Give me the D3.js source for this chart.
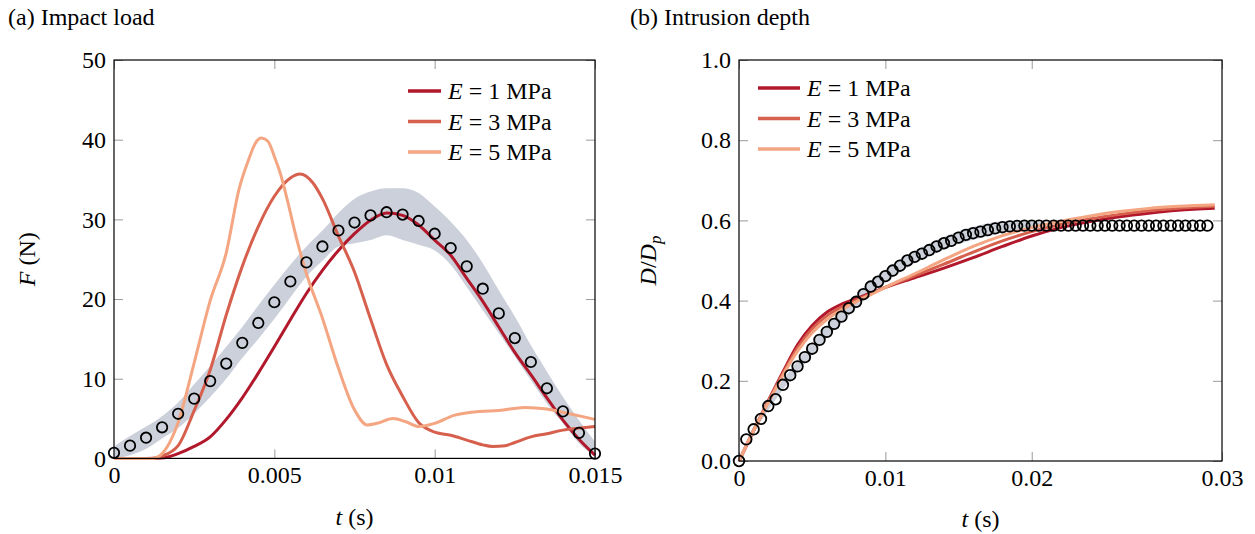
<!DOCTYPE html>
<html>
<head>
<meta charset="utf-8">
<script src="https://cdn.jsdelivr.net/npm/d3@7"></script>
<style>
  html, body { margin: 0; padding: 0; background: #fff; }
  svg { display: block; }
</style>
</head>
<body>
<svg id="fig" width="1255" height="534"></svg>
<script>
// ---------- (a) impact load: F (N) against t (s) ----------
const loadTicksX = [0, 0.005, 0.01, 0.015];
const loadTickLabelsX = ["0", "0.005", "0.01", "0.015"];
const loadTicksY = [0, 10, 20, 30, 40, 50];

// measured load, one point every 0.5 ms
const loadExpT = [0,0.0005,0.001,0.0015,0.002,0.0025,0.003,0.0035,0.004,0.0045,0.005,0.0055,0.006,0.0065,0.007,0.0075,0.008,0.0085,0.009,0.0095,0.01,0.0105,0.011,0.0115,0.012,0.0125,0.013,0.0135,0.014,0.0145,0.015];
const loadExp = [0.7,1.6,2.6,3.9,5.6,7.5,9.7,11.9,14.5,17.0,19.6,22.2,24.6,26.6,28.6,29.6,30.5,30.9,30.6,29.8,28.2,26.4,24.1,21.3,18.2,15.1,12.1,8.8,5.9,3.2,0.6];
// spread of the measured load (shaded band)
const loadBandUpper = [1.5,2.8,4.0,5.3,7.0,9.3,11.6,14.0,16.5,19.2,21.8,24.3,26.6,28.6,30.8,32.6,33.5,33.9,33.9,33.3,31.6,29.7,27.4,24.5,21.1,17.8,14.2,10.9,7.7,4.8,2.1];
const loadBandLower = [0,0.4,1.2,2.5,3.8,5.6,7.7,10.0,12.6,15.0,17.5,20.2,22.8,24.8,26.6,27.0,27.4,28.0,27.4,26.8,26.1,24.3,21.5,18.6,15.7,12.8,9.8,6.9,4.4,1.9,0.2];

// simulated load for three moduli
const loadE1T = loadExpT;
const loadE1 = [0,0,0,0.05,0.6,1.5,2.7,4.9,7.6,10.7,14.0,17.4,20.7,23.6,26.1,28.2,29.9,30.8,30.5,29.3,27.4,25.5,22.6,19.7,16.5,13.3,10.5,7.6,4.8,2.4,0.4];
const loadE3T = [0,0.0012,0.0015,0.002,0.0025,0.003,0.0035,0.004,0.0045,0.005,0.0055,0.0058,0.0062,0.0065,0.007,0.0075,0.008,0.0085,0.009,0.0095,0.01,0.0105,0.011,0.0115,0.0118,0.0122,0.0125,0.013,0.0135,0.014,0.0145,0.015];
const loadE3 = [0,0,0.3,1.6,6.0,11.1,18.0,24.1,29.1,32.9,35.2,35.7,34.6,32.6,27.9,23.4,17.5,11.8,7.8,4.5,3.3,2.9,2.3,1.7,1.5,1.6,2.0,2.7,3.1,3.55,3.8,4.0];
const loadE5T = [0,0.0012,0.0015,0.0018,0.002,0.0025,0.003,0.0035,0.0039,0.0042,0.0044,0.0046,0.0048,0.005,0.0052,0.0054,0.0057,0.006,0.0065,0.007,0.0075,0.0079,0.0082,0.0087,0.0091,0.0095,0.01,0.0106,0.0114,0.012,0.0128,0.0135,0.0141,0.015];
const loadE5 = [0,0,0.6,2.5,4.5,12.0,19.8,25.8,33.8,37.5,39.5,40.2,39.8,37.9,35.6,32.5,27.5,23.2,17.6,11.3,6.1,4.2,4.4,5.0,4.6,4.0,4.4,5.4,5.9,6.0,6.4,6.2,5.7,4.9];

// ---------- (b) intrusion depth: D/Dp against t (s) ----------
const depthTicksX = [0, 0.01, 0.02, 0.033];
const depthTicksY = [0, 0.2, 0.4, 0.6, 0.8, 1.0];

const depthExpT = d3.range(65).map(i => i * 0.0005);
const depthExp = [0,0.054,0.079,0.105,0.137,0.154,0.19,0.214,0.236,0.259,0.28,0.302,0.322,0.342,0.36,0.381,0.397,0.416,0.435,0.447,0.461,0.475,0.487,0.5,0.509,0.517,0.526,0.535,0.543,0.549,0.557,0.564,0.568,0.572,0.576,0.58,0.583,0.585,0.586,
  0.587,0.587,0.587,0.587,0.587,0.587,0.587,0.587,0.587,0.587,0.587,0.587,0.587,0.587,0.587,0.587,0.587,0.587,0.587,0.587,0.587,0.587,0.587,0.587,0.587,0.587,0.587];
const depthBandT = [0,0.001,0.002,0.003,0.004,0.005,0.006,0.007,0.008,0.009,0.01,0.011,0.012,0.013,0.014,0.015,0.016,0.017,0.018,0.019,0.02,0.021];
const depthBandUpper = [0.005,0.088,0.148,0.202,0.25,0.295,0.337,0.376,0.413,0.45,0.477,0.503,0.525,0.542,0.559,0.573,0.584,0.593,0.598,0.6,0.598,0.594];
const depthBandLower = [0,0.07,0.126,0.178,0.222,0.265,0.307,0.344,0.381,0.42,0.445,0.471,0.493,0.51,0.527,0.541,0.552,0.56,0.569,0.575,0.579,0.58];

const depthSimT = [0,0.001,0.002,0.003,0.004,0.005,0.006,0.007,0.008,0.009,0.01,0.012,0.014,0.016,0.018,0.02,0.022,0.024,0.026,0.028,0.03,0.0325];
const depthE1 = [0,0.076,0.15,0.222,0.29,0.338,0.371,0.391,0.405,0.419,0.433,0.457,0.481,0.507,0.535,0.561,0.582,0.597,0.609,0.618,0.625,0.630];
const depthE3 = [0,0.076,0.148,0.218,0.282,0.33,0.362,0.384,0.401,0.417,0.433,0.462,0.491,0.521,0.549,0.572,0.59,0.604,0.615,0.624,0.630,0.635];
const depthE5 = [0,0.076,0.146,0.214,0.274,0.32,0.353,0.377,0.397,0.415,0.433,0.467,0.502,0.535,0.562,0.582,0.598,0.611,0.622,0.63,0.635,0.639];

const seriesModuli = ["1", "3", "5"];
const seriesColors = ["#b2182b", "#d6604d", "#f4a582"];
const bandColor = "#cbd0da";

const FONT = "'Liberation Serif', 'Times New Roman', serif";
const FS = 24;

const svg = d3.select("#fig");

function pairs(ts, vs) { return ts.map((t, i) => [t, vs[i]]); }

function drawPanel(opt) {
  const { x, y, title, titleX } = opt;
  const [x0, x1] = x.range();
  const [y1, y0] = y.range();
  const g = svg.append("g");

  // panel title
  svg.append("text").attr("x", titleX).attr("y", 25)
    .attr("font-family", FONT).attr("font-size", FS).attr("fill", "#000")
    .text(title);

  const tickLen = 9;
  const styleAxis = (sel, labels) => {
    sel.select(".domain").remove();
    sel.selectAll(".tick line").attr("stroke", "#9a9a9a").attr("stroke-width", 1);
    sel.selectAll(".tick text").attr("font-family", FONT).attr("font-size", FS).attr("fill", "#000");
    if (!labels) sel.selectAll(".tick text").remove();
  };

  g.append("g").attr("transform", `translate(0,${y1})`)
    .call(d3.axisBottom(x).tickValues(opt.ticksX).tickFormat(opt.fmtX).tickSize(-tickLen).tickPadding(8))
    .call(s => styleAxis(s, true));
  g.append("g").attr("transform", `translate(0,${y0})`)
    .call(d3.axisTop(x).tickValues(opt.ticksX).tickSize(-tickLen))
    .call(s => styleAxis(s, false));
  g.append("g").attr("transform", `translate(${x0},0)`)
    .call(d3.axisLeft(y).tickValues(opt.ticksY).tickFormat(opt.fmtY).tickSize(-tickLen).tickPadding(8))
    .call(s => styleAxis(s, true));
  g.append("g").attr("transform", `translate(${x1},0)`)
    .call(d3.axisRight(y).tickValues(opt.ticksY).tickSize(-tickLen))
    .call(s => styleAxis(s, false));

  const plot = g.append("g");
  const clipId = "clip" + Math.round(x0);
  svg.append("clipPath").attr("id", clipId)
    .append("rect").attr("x", x0 - 8).attr("y", y0 - 8).attr("width", x1 - x0 + 16).attr("height", y1 - y0 + 16);
  plot.attr("clip-path", `url(#${clipId})`);

  // shaded spread of the measurements
  const area = d3.area().x(d => x(d[0])).y0(d => y(d[1])).y1(d => y(d[2])).curve(d3.curveMonotoneX);
  plot.append("path")
    .datum(opt.bandT.map((t, i) => [t, opt.bandLower[i], opt.bandUpper[i]]))
    .attr("d", area).attr("fill", bandColor).attr("stroke", "none");

  // simulated curves
  const line = d3.line().x(d => x(d[0])).y(d => y(d[1])).curve(d3.curveMonotoneX);
  opt.sims.forEach((s, i) => {
    plot.append("path").datum(pairs(s.t, s.v))
      .attr("d", line).attr("fill", "none")
      .attr("stroke", seriesColors[i]).attr("stroke-width", 3)
      .attr("stroke-linejoin", "round").attr("stroke-linecap", "butt");
  });

  // measured points
  plot.selectAll("circle.exp").data(pairs(opt.expT, opt.exp)).join("circle")
    .attr("class", "exp")
    .attr("cx", d => x(d[0])).attr("cy", d => y(d[1])).attr("r", opt.r)
    .attr("fill", "none").attr("stroke", "#000").attr("stroke-width", 1.8);

  // frame
  g.append("rect").attr("x", x0).attr("y", y0).attr("width", x1 - x0).attr("height", y1 - y0)
    .attr("fill", "none").attr("stroke", "#000").attr("stroke-width", 1.2);

  // axis titles
  const xl = svg.append("text").attr("x", (x0 + x1) / 2).attr("y", opt.xLabelY)
    .attr("text-anchor", "middle").attr("font-family", FONT).attr("font-size", FS);
  xl.append("tspan").attr("font-style", "italic").text("t");
  xl.append("tspan").text(" (s)");

  const yl = svg.append("text")
    .attr("transform", `translate(${opt.yLabelX},${(y0 + y1) / 2}) rotate(-90)`)
    .attr("text-anchor", "middle").attr("font-family", FONT).attr("font-size", FS);
  opt.yLabel(yl);

  // legend
  const lg = svg.append("g");
  seriesModuli.forEach((m, i) => {
    const ly = opt.legendY + i * 30.5;
    lg.append("line").attr("x1", opt.legendX).attr("x2", opt.legendX + opt.legendLen)
      .attr("y1", ly).attr("y2", ly)
      .attr("stroke", seriesColors[i]).attr("stroke-width", 3.5);
    const t = lg.append("text").attr("x", opt.legendX + opt.legendLen + 7).attr("y", ly + 8)
      .attr("font-family", FONT).attr("font-size", FS);
    t.append("tspan").attr("font-style", "italic").text("E");
    t.append("tspan").text(` = ${m} MPa`);
  });
}

// panel (a)
drawPanel({
  x: d3.scaleLinear().domain([0, 0.015]).range([114, 595]),
  y: d3.scaleLinear().domain([0, 50]).range([458.4, 60]),
  title: "(a) Impact load", titleX: 8,
  ticksX: loadTicksX, fmtX: (d, i) => loadTickLabelsX[i],
  ticksY: loadTicksY, fmtY: d3.format("d"),
  expT: loadExpT, exp: loadExp, r: 5.2,
  bandT: loadExpT, bandUpper: loadBandUpper, bandLower: loadBandLower,
  sims: [{ t: loadE1T, v: loadE1 }, { t: loadE3T, v: loadE3 }, { t: loadE5T, v: loadE5 }],
  xLabelY: 525, yLabelX: 35,
  yLabel: s => { s.append("tspan").attr("font-style", "italic").text("F"); s.append("tspan").text(" (N)"); },
  legendX: 408, legendLen: 33, legendY: 91
});

// panel (b)
drawPanel({
  x: d3.scaleLinear().domain([0, 0.033]).range([739, 1222]),
  y: d3.scaleLinear().domain([0, 1]).range([461, 60]),
  title: "(b) Intrusion depth", titleX: 630,
  ticksX: depthTicksX, fmtX: d3.format(".2~f"),
  ticksY: depthTicksY, fmtY: d3.format(".1f"),
  expT: depthExpT, exp: depthExp, r: 5.3,
  bandT: depthBandT, bandUpper: depthBandUpper, bandLower: depthBandLower,
  sims: [{ t: depthSimT, v: depthE1 }, { t: depthSimT, v: depthE3 }, { t: depthSimT, v: depthE5 }],
  xLabelY: 527, yLabelX: 656,
  yLabel: s => {
    s.append("tspan").attr("font-style", "italic").text("D");
    s.append("tspan").text("/");
    s.append("tspan").attr("font-style", "italic").text("D");
    s.append("tspan").attr("font-style", "italic").attr("font-size", 17).attr("dy", 5).text("p");
  },
  legendX: 758, legendLen: 42, legendY: 88
});
</script>
</body>
</html>
